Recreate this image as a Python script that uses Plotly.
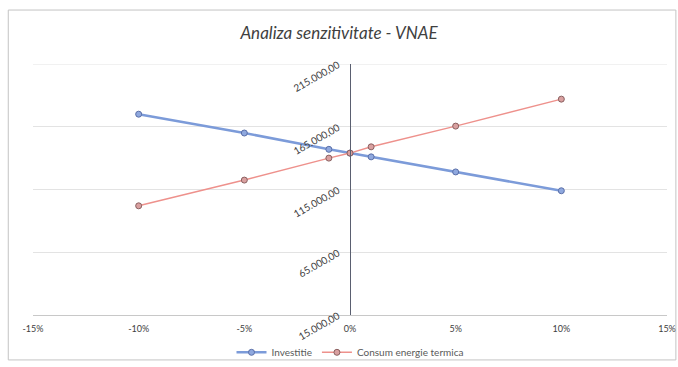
import plotly.graph_objects as go

# data
variatie = [-0.10, -0.05, -0.01, 0.0, 0.01, 0.05, 0.10]
investitie = [175000, 160000, 147000, 144000, 141000, 129000, 114000]
consum_energie = [102000, 122500, 140000, 144000, 149000, 165500, 187000]

x_tickvals = [-0.15, -0.10, -0.05, 0.0, 0.05, 0.10, 0.15]
x_ticktext = ["-15%", "-10%", "-5%", "0%", "5%", "10%", "15%"]
y_tickvals = [15000, 65000, 115000, 165000, 215000]

fig = go.Figure()
fig.add_trace(go.Scatter(
    x=variatie, y=investitie, name="Investitie", mode="lines+markers",
    line=dict(color="#7C9BD9", width=2.5),
    marker=dict(size=6, color="#8FA8DE", line=dict(color="#5A6FA8", width=1)),
))
fig.add_trace(go.Scatter(
    x=variatie, y=consum_energie, name="Consum energie termica", mode="lines+markers",
    line=dict(color="#EE918C", width=1.5),
    marker=dict(size=6, color="#D9A0A0", line=dict(color="#8A6060", width=1)),
))

fig.update_layout(
    width=678, height=367, autosize=False,
    margin=dict(l=33, r=11, t=64, b=52),
    paper_bgcolor="white", plot_bgcolor="white",
    separators=",.",
    font=dict(family="Lato, Open Sans, sans-serif", size=9, color="#404040"),
    title=dict(text="<i>Analiza senzitivitate - VNAE</i>", x=0.5, xanchor="center",
               y=0.91, yanchor="middle", automargin=False,
               font=dict(family="Lato, Open Sans, sans-serif", size=17, color="#404040")),
    showlegend=True,
    legend=dict(orientation="h", x=0.5, xanchor="center",
                yref="container", y=0.04, yanchor="middle",
                font=dict(size=10, color="#595959"), bgcolor="rgba(0,0,0,0)"),
    xaxis=dict(range=[-0.15, 0.15], tickvals=x_tickvals, ticktext=x_ticktext,
               showgrid=False, zeroline=False, showline=True, linecolor="#c8c8c8",
               linewidth=1, ticks="", automargin=False, ticklabelstandoff=5,
               tickfont=dict(size=9, color="#404040")),
    yaxis=dict(range=[15000, 215000], tickvals=y_tickvals, tickformat=",.2f",
               anchor="free", position=0.5, side="left", automargin=False,
               showgrid=True, gridcolor="#e3e3e3", gridwidth=1,
               zeroline=False, showline=True, linecolor="#5a5f70", linewidth=1,
               ticks="", tickangle=-30, ticklabelstandoff=10,
               tickfont=dict(size=10, color="#404040")),
    shapes=[dict(type="rect", xref="paper", yref="paper",
                 x0=-0.039, x1=1.014, y0=-0.179, y1=1.215,
                 line=dict(color="#c4c4c4", width=1), layer="below"),
            dict(type="line", xref="paper", yref="y", x0=0, x1=1,
                 y0=y_tickvals[-1], y1=y_tickvals[-1],
                 line=dict(color="#e3e3e3", width=1), layer="below")],
)

fig.write_html("out.html",
               config={"responsive": False, "displayModeBar": False},
               post_script="document.body.style.margin='0';document.body.style.overflow='hidden';")
